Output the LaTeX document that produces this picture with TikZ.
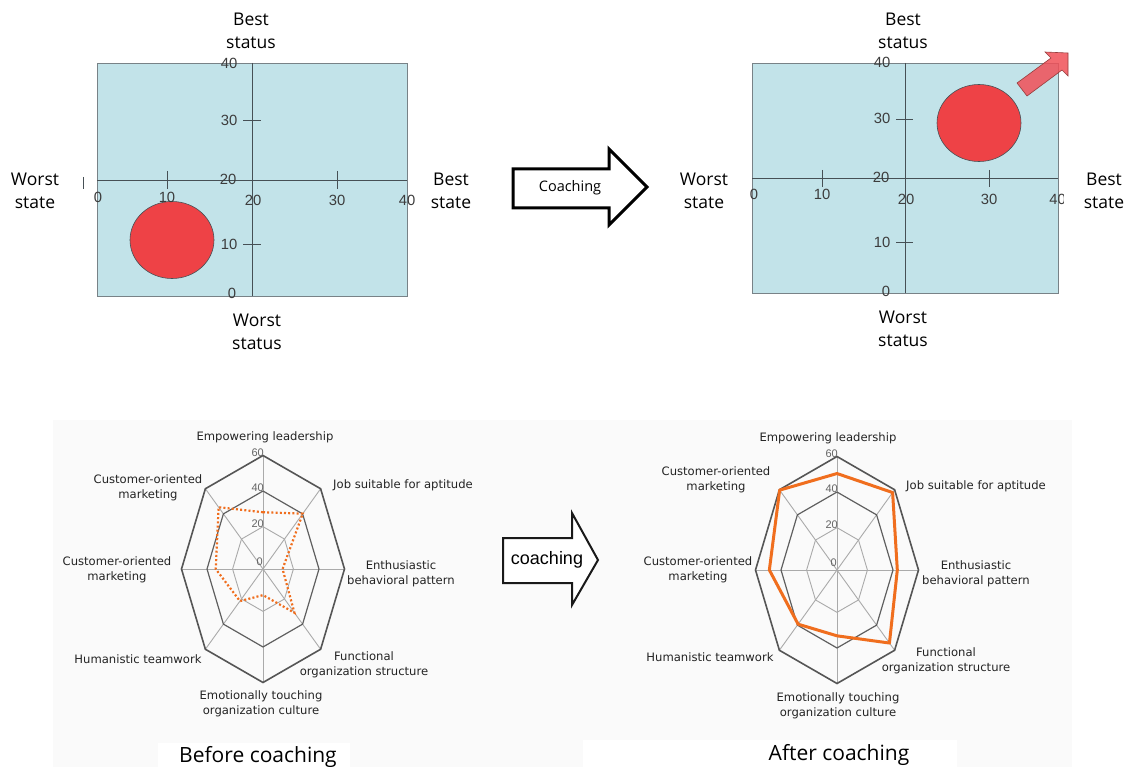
\documentclass[tikz,border=0pt]{standalone}
\usepackage{fontspec}
\setmainfont{Open Sans}
\newfontfamily\lsans{Liberation Sans}
\newfontfamily\dsans{DejaVu Sans}
\definecolor{plotbg}{RGB}{194,227,233}
\definecolor{plotedge}{RGB}{120,130,135}
\definecolor{axisc}{RGB}{70,80,85}
\definecolor{blobred}{RGB}{238,66,70}
\definecolor{arrred}{RGB}{240,80,88}
\definecolor{orng}{RGB}{240,110,30}
\definecolor{gridgray}{RGB}{170,170,170}
\definecolor{griddark}{RGB}{85,85,85}
\definecolor{panelbg}{RGB}{250,250,250}
\definecolor{txt}{RGB}{35,35,35}
\definecolor{numc}{RGB}{60,60,60}
\tikzset{
  biglabel/.style={font=\fontsize{17.5}{22.5}\selectfont, align=center, text=black, inner sep=0pt},
  num/.style={font=\lsans\fontsize{14.8}{14.8}\selectfont, text=numc, inner sep=0pt},
  plotbox/.style={fill=plotbg, draw=plotedge, line width=0.9pt},
  axisline/.style={draw=axisc, line width=0.9pt},
  blob/.style={fill=blobred, draw=axisc, line width=0.6pt},
  movearrow/.style={fill=arrred, fill opacity=0.85, draw={rgb,255:red,150;green,60;blue,60}, line width=0.6pt},
  bigarrow/.style={fill=white, draw=black, line width=3pt, line join=miter},
  smallarrow/.style={fill=white, draw={rgb,255:red,25;green,25;blue,25}, line width=2pt, line join=miter},
  rlabel/.style={font=\dsans\fontsize{11.6}{15}\selectfont, text=txt, align=center, inner sep=0pt},
  snum/.style={font=\lsans\fontsize{11}{11}\selectfont, text={rgb,255:red,100;green,100;blue,100}, inner sep=0pt, anchor=east},
  spoke/.style={draw=gridgray, line width=0.9pt},
  ringlight/.style={draw=gridgray, line width=0.9pt},
  ringmid/.style={draw={rgb,255:red,95;green,95;blue,95}, line width=1.2pt},
  ringout/.style={draw=griddark, line width=1.6pt},
  beforeline/.style={draw=orng, line width=2.2pt, dash pattern=on 2pt off 2.2pt},
  afterline/.style={draw=orng, line width=3pt, line join=round},
  title/.style={font=\fontsize{21}{24}\selectfont, text=black, inner sep=0pt}
}
\begin{document}
\begin{tikzpicture}[x=1pt, y=-1pt]
\useasboundingbox (0,0) rectangle (1127,767);
\fill[white] (0,0) rectangle (1127,767);

% ================= top-left plot =================
\draw[plotbox] (97,63) rectangle (407,296);
\draw[axisline] (97,180) -- (407,180);
\draw[axisline] (252,63) -- (252,296);
\draw[axisline] (167,171) -- (167,189);
\draw[axisline] (337,171) -- (337,189);
\draw[axisline] (243,120) -- (261,120);
\draw[axisline] (243,244) -- (261,244);
\draw[draw=axisc, line width=0.8pt] (83,177) -- (83,189);
\draw[blob] (172,240) ellipse [x radius=42, y radius=38.5];
\node[num] (lx0) at (98,197) {0};
\node[num] (lx10) at (167,197) {10};
\node[num] (lx20) at (253,200) {20};
\node[num] (lx30) at (337,200) {30};
\node[num] (lx40) at (407,200) {40};
\node[num] (ly40) at (229,63) {40};
\node[num] (ly30) at (229,120) {30};
\node[num] (ly20) at (228,179) {20};
\node[num] (ly10) at (229,244) {10};
\node[num] (ly0) at (232,293) {0};
\node[biglabel] (lbs) at (251,31) {Best\\status};
\node[biglabel] (lws) at (257,332) {Worst\\status};
\node[biglabel] (lwst) at (35,191) {Worst\\state};
\node[biglabel] (lbst) at (451,191) {Best\\state};

% ================= top arrow =================
\draw[bigarrow] (513,169) -- (609,169) -- (609,149) -- (647,187) -- (609,225) -- (609,208) -- (513,208) -- cycle;
\node[font=\fontsize{14.5}{14.5}\selectfont, inner sep=0pt] (coach1) at (570,188) {Coaching};

% ================= top-right plot =================
\draw[plotbox] (752,63) rectangle (1058,293);
\draw[axisline] (752,178) -- (1058,178);
\draw[axisline] (905,63) -- (905,293);
\draw[axisline] (822,170) -- (822,187);
\draw[axisline] (989,170) -- (989,187);
\draw[axisline] (896,119) -- (913,119);
\draw[axisline] (896,242) -- (913,242);
\draw[blob] (979,123) ellipse [x radius=42, y radius=38.5];
\draw[movearrow] (1017,83) -- (1051,58) -- (1045,52) -- (1068,53) -- (1068,76) -- (1062,70) -- (1027,96) -- cycle;
\node[num] (rx0) at (754,194) {0};
\node[num] (rx10) at (822,194) {10};
\node[num] (rx20) at (906,199) {20};
\node[num] (rx30) at (989,199) {30};
\begin{scope}
\clip (1040,150) rectangle (1063,215);
\node[num] (rx40) at (1057.5,199) {40};
\end{scope}
\node[num] (ry40) at (882,62) {40};
\node[num] (ry30) at (882,118) {30};
\node[num] (ry20) at (881,177) {20};
\node[num] (ry10) at (882,242) {10};
\node[num] (ry0) at (886,291) {0};
\node[biglabel] (rbs) at (903,31) {Best\\status};
\node[biglabel] (rws) at (903,329) {Worst\\status};
\node[biglabel] (rwst) at (704,191) {Worst\\state};
\node[biglabel] (rbst) at (1104,191) {Best\\state};

% ================= bottom panel =================
\fill[panelbg] (53,420) rectangle (1072,767);
\fill[white] (158,743) rectangle (350,767);
\fill[white] (583,740) rectangle (957,767);

% ---- left radar ----
\begin{scope}[shift={(263,569)}, xscale=81.5, yscale=-113.5]
  \foreach \a in {90,45,...,-225} \draw[spoke] (0,0) -- (\a:1);
  \draw[ringlight] (90:0.373) \foreach \a in {45,0,...,-225}{ -- (\a:0.373)} -- cycle;
  \draw[ringmid] (90:0.687) \foreach \a in {45,0,...,-225}{ -- (\a:0.687)} -- cycle;
  \draw[ringout] (90:1) \foreach \a in {45,0,...,-225}{ -- (\a:1)} -- cycle;
  \draw[beforeline] (90:0.50) -- (45:0.69) -- (0:0.24) -- (-45:0.545) -- (-90:0.23) -- (-135:0.40) -- (180:0.58) -- (135:0.77) -- cycle;
\end{scope}
\node[snum] (l60) at (264,452.5) {60};
\node[snum] (l40) at (264,488) {40};
\node[snum] (l20) at (264,523.7) {20};
\node[snum] (l0) at (263,562) {0};
\node[rlabel] (lemp) at (265,437) {Empowering leadership};
\node[rlabel] (lcu1) at (148,488) {Customer-oriented\\marketing};
\node[rlabel] (ljob) at (403,485) {Job suitable for aptitude};
\node[rlabel] (lcu2) at (117,570) {Customer-oriented\\marketing};
\node[rlabel] (lent) at (401,574) {Enthusiastic\\behavioral pattern};
\node[rlabel] (lhum) at (138,659) {Humanistic teamwork};
\node[rlabel] (lfun) at (364,665) {Functional\\organization structure};
\node[rlabel] (lemo) at (261,704) {Emotionally touching\\organization culture};
\node[title] (tbefore) at (258,757) {Before coaching};

% ---- bottom arrow ----
\draw[smallarrow] (503,538) -- (572,538) -- (572,513) -- (598,560) -- (572,605) -- (572,583) -- (503,583) -- cycle;
\node[font=\lsans\fontsize{18}{18}\selectfont, inner sep=0pt] (coach2) at (547,560) {coaching};

% ---- right radar ----
\begin{scope}[shift={(837,570)}, xscale=81.5, yscale=-113.5]
  \foreach \a in {90,45,...,-225} \draw[spoke] (0,0) -- (\a:1);
  \draw[ringlight] (90:0.373) \foreach \a in {45,0,...,-225}{ -- (\a:0.373)} -- cycle;
  \draw[ringmid] (90:0.687) \foreach \a in {45,0,...,-225}{ -- (\a:0.687)} -- cycle;
  \draw[ringout] (90:1) \foreach \a in {45,0,...,-225}{ -- (\a:1)} -- cycle;
  \draw[afterline] (90:0.85) -- (45:0.965) -- (0:0.74) -- (-45:0.91) -- (-90:0.58) -- (-135:0.675) -- (180:0.83) -- (135:0.995) -- cycle;
\end{scope}
\node[snum] (r60) at (838,453.5) {60};
\node[snum] (r40) at (838,489) {40};
\node[snum] (r20) at (838,524.7) {20};
\node[snum] (r0) at (837,563) {0};
\node[rlabel] (remp) at (828,438) {Empowering leadership};
\node[rlabel] (rcu1) at (716,480) {Customer-oriented\\marketing};
\node[rlabel] (rjob) at (976,486) {Job suitable for aptitude};
\node[rlabel] (rcu2) at (698,570) {Customer-oriented\\marketing};
\node[rlabel] (rent) at (976,574) {Enthusiastic\\behavioral pattern};
\node[rlabel] (rhum) at (710,657) {Humanistic teamwork};
\node[rlabel] (rfun) at (946,661) {Functional\\organization structure};
\node[rlabel] (remo) at (838,706) {Emotionally touching\\organization culture};
\node[title] (tafter) at (839,755) {After coaching};
\end{tikzpicture}
\end{document}
